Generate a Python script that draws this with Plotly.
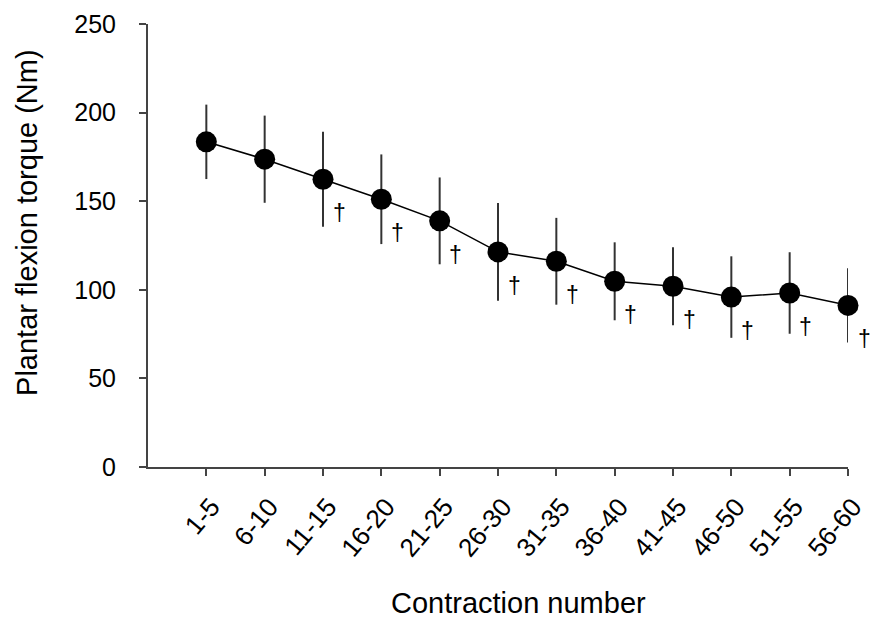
import plotly.graph_objects as go

categories = ["1-5", "6-10", "11-15", "16-20", "21-25", "26-30",
              "31-35", "36-40", "41-45", "46-50", "51-55", "56-60"]
torque = [183.5, 173.7, 162.4, 151.1, 138.9, 121.4, 116.1, 104.8, 102.0, 95.9, 98.2, 91.2]
torque_sd = [21, 24.6, 26.8, 25.3, 24.5, 27.6, 24.5, 22, 22, 23, 23, 21]
significant = [False, False, True, True, True, True, True, True, True, True, True, True]
y_ticks = [0, 50, 100, 150, 200, 250]

FONT = "Liberation Sans, Arial, sans-serif"

fig = go.Figure()
fig.add_trace(go.Scatter(
    x=categories, y=torque,
    mode="lines+markers",
    line=dict(color="black", width=1.5),
    marker=dict(color="black", size=21),
    error_y=dict(type="data", array=torque_sd, visible=True,
                 color="#333333", thickness=2, width=0),
    cliponaxis=False,
    showlegend=False,
))

for c, v, s in zip(categories, torque, significant):
    if s:
        fig.add_annotation(x=c, y=v, text="†", showarrow=False,
                           xanchor="center", yanchor="middle",
                           xshift=16, yshift=-34,
                           font=dict(family=FONT, size=23, color="black"))

fig.add_annotation(xref="paper", yref="paper", x=-0.173, y=0.553,
                   xanchor="center", yanchor="middle",
                   text="Plantar flexion torque (Nm)", textangle=-90,
                   showarrow=False, font=dict(family=FONT, size=29, color="black"))
fig.add_annotation(xref="paper", yref="paper", x=0.5286, y=-0.307,
                   xanchor="center", yanchor="middle",
                   text="Contraction number", showarrow=False,
                   font=dict(family=FONT, size=29, color="black"))

fig.update_layout(
    width=871, height=635,
    margin=dict(l=148, r=23, t=24, b=168, autoexpand=False),
    paper_bgcolor="white", plot_bgcolor="white",
    font=dict(family=FONT, color="black"),
)
fig.update_xaxes(
    type="category", range=[-1, 11], automargin=False,
    showline=True, linecolor="#444444", linewidth=2,
    ticks="outside", ticklen=7, tickcolor="#444444", tickwidth=2,
    tickangle=-50, tickfont=dict(family=FONT, size=26, color="black"),
    ticklabelstandoff=5, ticklabelshift=5,
    showgrid=False, zeroline=False,
)
fig.update_yaxes(
    range=[0, 250], tickvals=y_ticks, automargin=False,
    showline=True, linecolor="#444444", linewidth=2,
    ticks="outside", ticklen=7, tickcolor="#444444", tickwidth=2,
    tickfont=dict(family=FONT, size=25, color="black"),
    ticklabelstandoff=18,
    showgrid=False, zeroline=False,
)

fig.write_html(
    "out.html",
    config={"displayModeBar": False},
    post_script="document.body.style.margin='0';document.body.style.overflow='hidden';",
)
